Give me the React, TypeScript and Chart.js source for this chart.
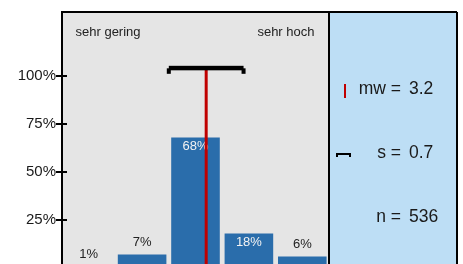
import React, { useEffect, useRef } from "react";
import { Chart, registerables } from "chart.js";

Chart.register(...registerables);

const categories = ["1", "2", "3", "4", "5"];
const percentages = [1, 7, 68, 18, 6];
const yTicks = [25, 50, 75, 100];
const scaleLabels = ["sehr gering", "sehr hoch"];
const meanValue = [3.2];
const sdValue = [0.7];
const nValue = [536];
const bracketLevel = [104];

const FONT = "'Liberation Sans', Arial, sans-serif";

const decorPlugin = {
  id: "decor",
  beforeDraw(chart: any) {
    const { ctx, chartArea } = chart;
    const { left, right, top, bottom } = chartArea;
    ctx.save();
    ctx.fillStyle = "#E5E5E5";
    ctx.fillRect(left, top, right - left, bottom - top);
    const pr = chart.width - 6;
    ctx.fillStyle = "#BDDEF5";
    ctx.fillRect(right, top, pr - right, bottom - top);
    ctx.restore();
  },
  afterDatasetsDraw(chart: any) {
    const { ctx, chartArea } = chart;
    const { left, right, top, bottom } = chartArea;
    const xs = chart.scales.x;
    const ys = chart.scales.y;
    const pr = chart.width - 6;
    ctx.save();

    // value labels
    const meta = chart.getDatasetMeta(0);
    ctx.font = `13px ${FONT}`;
    ctx.textAlign = "center";
    ctx.textBaseline = "middle";
    meta.data.forEach((bar: any, i: number) => {
      const v = percentages[i];
      if (v >= 15) {
        ctx.fillStyle = "#F2F2F2";
        ctx.fillText(`${v}%`, bar.x, bar.y + 9);
      } else {
        ctx.fillStyle = "#222222";
        ctx.fillText(`${v}%`, bar.x, bar.y - 12);
      }
    });

    // mean line
    const mx = xs.getPixelForValue(meanValue[0] - 1);
    const by = ys.getPixelForValue(bracketLevel[0]);
    ctx.strokeStyle = "#C00000";
    ctx.lineWidth = 3;
    ctx.beginPath();
    ctx.moveTo(mx, by);
    ctx.lineTo(mx, bottom + 40);
    ctx.stroke();

    // sd bracket
    const x1 = xs.getPixelForValue(meanValue[0] - sdValue[0] - 1);
    const x2 = xs.getPixelForValue(meanValue[0] + sdValue[0] - 1);
    ctx.fillStyle = "#000000";
    ctx.fillRect(x1, by - 2.5, x2 - x1, 4.5);
    ctx.fillRect(x1 - 2, by, 4, 5.5);
    ctx.fillRect(x2 - 2, by, 4, 5.5);

    // tick marks inside
    ctx.strokeStyle = "#000000";
    ctx.lineWidth = 2;
    yTicks.forEach((t) => {
      const y = ys.getPixelForValue(t);
      ctx.beginPath();
      ctx.moveTo(left, y);
      ctx.lineTo(left + 5, y);
      ctx.stroke();
    });

    // frame
    ctx.beginPath();
    ctx.moveTo(left, top);
    ctx.lineTo(pr, top);
    ctx.moveTo(right, top);
    ctx.lineTo(right, bottom + 40);
    ctx.moveTo(pr, top);
    ctx.lineTo(pr, bottom + 40);
    ctx.stroke();

    // scale labels
    ctx.fillStyle = "#222222";
    ctx.font = `13px ${FONT}`;
    ctx.textBaseline = "middle";
    ctx.textAlign = "left";
    ctx.fillText(scaleLabels[0], left + 13.5, top + 20);
    ctx.textAlign = "right";
    ctx.fillText(scaleLabels[1], right - 14.5, top + 20);

    // legend panel
    const lx = right + 72;
    const vx = right + 80;
    ctx.font = `17.5px ${FONT}`;
    ctx.fillStyle = "#1A1A1A";
    const rows: [string, string, number][] = [
      ["mw =", String(meanValue[0]), top + 77.5],
      ["s =", String(sdValue[0]), top + 141],
      ["n =", String(nValue[0]), top + 205],
    ];
    rows.forEach(([lab, val, y]) => {
      ctx.textAlign = "right";
      ctx.fillText(lab, lx, y);
      ctx.textAlign = "left";
      ctx.fillText(val, vx, y);
    });
    // legend symbols
    const sx = Math.round(right) + 7;
    const sy = Math.round(top) + 141;
    ctx.fillStyle = "#C00000";
    ctx.fillRect(Math.round(right) + 15, Math.round(top) + 72, 2, 14);
    ctx.fillStyle = "#000000";
    ctx.fillRect(sx, sy, 15, 2);
    ctx.fillRect(sx, sy, 2, 4);
    ctx.fillRect(sx + 13, sy, 2, 4);

    ctx.restore();
  },
};

export default function App() {
  const ref = useRef<HTMLCanvasElement | null>(null);
  useEffect(() => {
    if (!ref.current) return;
    const chart = new Chart(ref.current, {
      type: "bar",
      data: {
        labels: categories,
        datasets: [
          {
            data: percentages,
            backgroundColor: "#2A6DAB",
            borderWidth: 0,
            barPercentage: 0.91,
            categoryPercentage: 1,
          },
        ],
      },
      options: {
        responsive: false,
        animation: false,
        events: [],
        layout: { padding: { top: 12, right: 134, bottom: 32, left: 0 } },
        plugins: { legend: { display: false }, tooltip: { enabled: false } },
        scales: {
          x: { display: false },
          y: {
            min: 0,
            max: 133.33,
            afterBuildTicks: (s: any) => {
              s.ticks = yTicks.map((v) => ({ value: v }));
            },
            afterFit: (s: any) => {
              s.width = 62;
            },
            ticks: {
              padding: 0,
              color: "#1A1A1A",
              font: { size: 15, family: FONT },
              callback: (v: any) => `${v}%`,
            },
            grid: {
              drawOnChartArea: false,
              drawTicks: true,
              tickLength: 6,
              color: "#000000",
              lineWidth: 2,
            },
            border: { display: true, color: "#000000", width: 2 },
          },
        },
      },
      plugins: [decorPlugin],
    });
    return () => chart.destroy();
  }, []);
  return (
    <div style={{ position: "fixed", top: 0, left: 0, width: 463, height: 300 }}>
      <canvas ref={ref} width={463} height={300} />
    </div>
  );
}
